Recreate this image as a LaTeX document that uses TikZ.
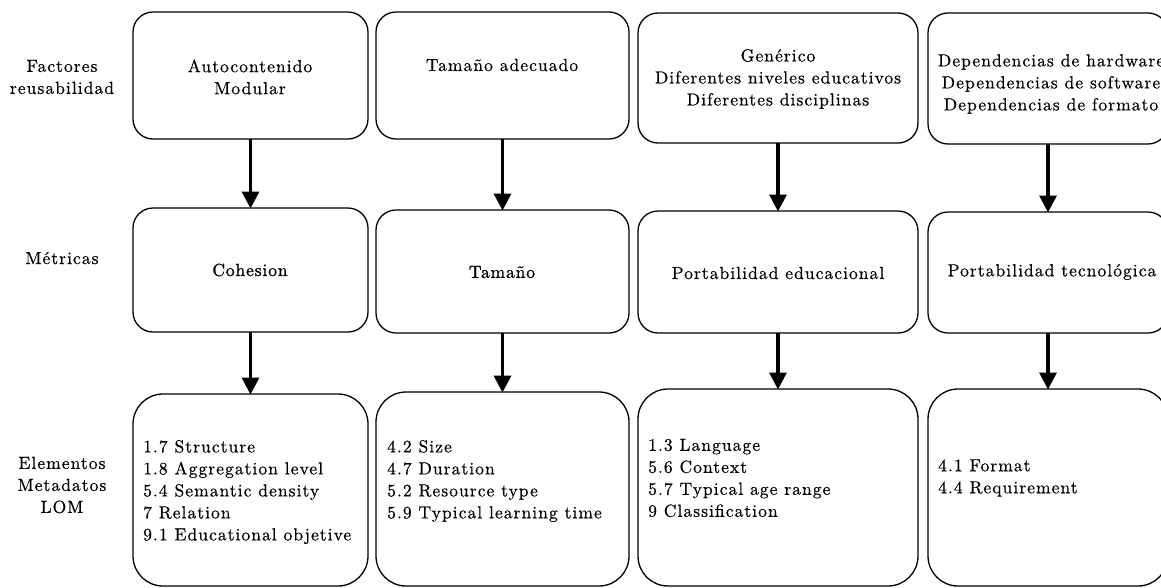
\documentclass[tikz,border=0pt]{standalone}
\usepackage{fontspec}
\setmainfont{lmroman10-regular}[Extension=.otf, LetterSpace=6, FakeBold=0.5]
\newfontfamily\heavyfont{lmroman10-regular}[Extension=.otf, LetterSpace=5, FakeBold=1.2]
\usetikzlibrary{arrows.meta}
\tikzset{
  box/.style={draw, line width=1.3pt, rounded corners=20pt, inner sep=0pt, outer sep=0pt},
  bigbox/.style={box, rounded corners=30pt},
  txt/.style={font=\fontsize{17.5}{22}\selectfont, align=center, inner sep=0pt},
  heavy/.style={txt, font=\heavyfont\fontsize{17.5}{22}\selectfont},
  list/.style={txt, align=left, anchor=west},
  arr/.style={line width=3.4pt, -{Triangle[width=17pt,length=17pt]}, shorten >=-0.5pt}
}
\begin{document}
\begin{tikzpicture}[x=1pt, y=-1pt]
\useasboundingbox (0,0) rectangle (1161,587);
\clip (0,0) rectangle (1161,587);

% row labels
\node[txt] (l1) at (62,77) {Factores\\reusabilidad};
\node[txt] (l2) at (62,258) {Métricas};
\node[txt] (l3) at (62,485) {Elementos\\Metadatos\\LOM};

% reusability factors
\node[box, minimum width=235pt, minimum height=127pt] (b11) at (250.5,75.5) {};
\node[box, minimum width=253pt, minimum height=127pt] (b12) at (502.5,75.5) {};
\node[box, minimum width=280pt, minimum height=130pt] (b13) at (778,78) {};
\node[box, minimum width=240pt, minimum height=131pt] (b14) at (1048,78.5) {};
\node[txt] (t11) at (250,77) {Autocontenido\\Modular};
\node[txt] (t12) at (502,65) {Tamaño adecuado};
\node[txt] (t13) at (778,79) {Genérico\\Diferentes niveles educativos\\Diferentes disciplinas};
\node[txt] (t14) at (1051,84) {Dependencias de hardware\\Dependencias de software\\Dependencias de formato};

% metrics
\node[box, minimum width=235pt, minimum height=124pt] (b21) at (250.5,270) {};
\node[box, minimum width=253pt, minimum height=123pt] (b22) at (502.5,271.5) {};
\node[box, minimum width=280pt, minimum height=122pt] (b23) at (778,272) {};
\node[box, minimum width=240pt, minimum height=121pt] (b24) at (1048,272.5) {};
\node[heavy] (t21) at (250,270) {Cohesion};
\node[heavy] (t22) at (502,272) {Tamaño};
\node[txt] (t23) at (778,273) {Portabilidad educacional};
\node[txt] (t24) at (1052,272) {Portabilidad tecnológica};

% LOM metadata elements
\node[bigbox, minimum width=235pt, minimum height=192pt] (b31) at (250.5,490) {};
\node[bigbox, minimum width=253pt, minimum height=194pt] (b32) at (502.5,489) {};
\node[bigbox, minimum width=280pt, minimum height=197pt] (b33) at (778,487.5) {};
\node[bigbox, minimum width=240pt, minimum height=197pt] (b34) at (1048,487.5) {};
\node[list] (t31) at (143,492) {1.7 Structure\\1.8 Aggregation level\\5.4 Semantic density\\7 Relation\\9.1 Educational objetive};
\node[list] (t32) at (387,481) {4.2 Size\\4.7 Duration\\5.2 Resource type\\5.9 Typical learning time};
\node[list] (t33) at (648,478) {1.3 Language\\5.6 Context\\5.7 Typical age range\\9 Classification};
\node[list] (t34) at (938,478) {4.1 Format\\4.4 Requirement};

% connectors
\foreach \c in {1,2,3,4} {
  \draw[arr] (b1\c.south) -- (b2\c.north);
  \draw[arr] (b2\c.south) -- (b3\c.north);
}
\end{tikzpicture}
\end{document}
